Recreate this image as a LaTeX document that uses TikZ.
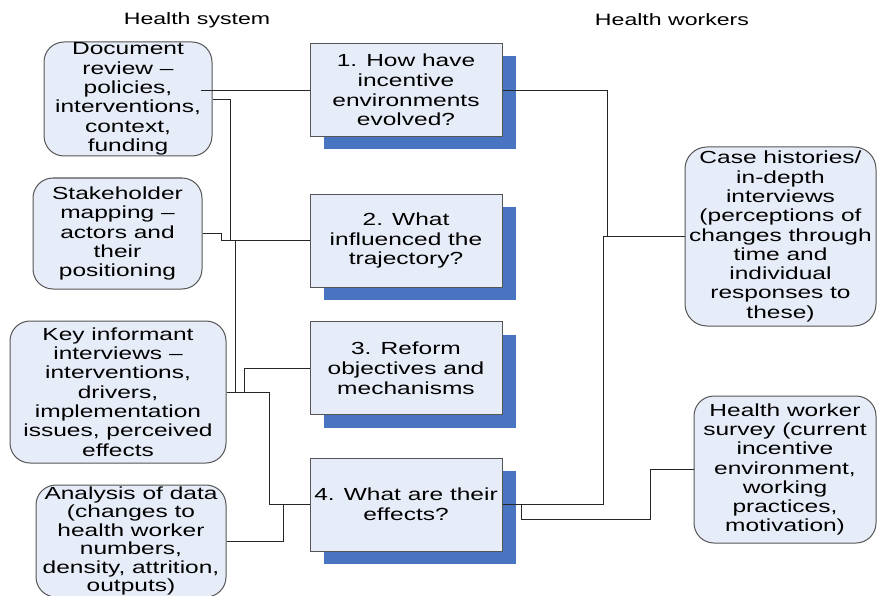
\documentclass[tikz,border=0pt]{standalone}
\usepackage{fontspec}
\setmainfont{Liberation Sans}[FakeStretch=1.4]
\usetikzlibrary{shadows}

\definecolor{boxfill}{HTML}{E7EDF8}
\definecolor{boxline}{HTML}{555555}
\definecolor{qshade}{HTML}{4874C2}

\begin{document}
\begin{tikzpicture}[x=1pt, y=-1pt,
	source/.style={draw=boxline, line width=1pt, fill=boxfill, rounded corners=20pt,
		align=center, inner sep=0pt, font=\fontsize{17.5}{19.3}\selectfont},
	question/.style={draw=boxline, line width=1pt, fill=boxfill, align=center,
		minimum width=192pt, minimum height=93pt, inner sep=0pt,
		font=\fontsize{17.5}{19.8}\selectfont,
		drop shadow={shadow xshift=14pt, shadow yshift=-13pt, fill=qshade, opacity=1}},
	heading/.style={font=\fontsize{16.5}{19}\selectfont},
	link/.style={draw=black!85, line width=0.9pt}]
	\useasboundingbox (0,0) rectangle (877,596);

	\node[heading] (hsys) at (197, 20) {Health system};
	\node[heading] (hwork) at (672, 20) {Health workers};

	% research questions
	\node[question] (q1) at (406, 90) {1. How have\\incentive\\environments\\evolved?};
	\node[question] (q2) at (406, 240.5) {2. What\\influenced the\\trajectory?};
	\node[question] (q3) at (406, 368) {3. Reform\\objectives and\\mechanisms};
	\node[question] (q4) at (406, 504.5) {4. What are their\\effects?};

	% health system sources
	\node[source, minimum width=168pt, minimum height=114pt] (doc) at (128, 99)
		{Document\\review \textendash\\policies,\\interventions,\\context,\\funding};
	\node[source, minimum width=169pt, minimum height=111pt] (stake) at (117.5, 233.5)
		{Stakeholder\\mapping \textendash\\actors and\\their\\positioning};
	\node[source, minimum width=216pt, minimum height=142pt] (key) at (118, 392)
		{Key informant\\interviews \textendash\\interventions,\\drivers,\\implementation\\issues, perceived\\effects};
	\node[source, minimum width=190pt, minimum height=112pt,
		font=\fontsize{17.5}{18.4}\selectfont] (data) at (131, 541)
		{Analysis of data\\(changes to\\health worker\\numbers,\\density, attrition,\\outputs)};

	% health worker sources
	\node[source, rounded corners=22pt, minimum width=191pt, minimum height=179pt] (hist) at (780.5, 236.5)
		{Case histories/\\in-depth\\interviews\\(perceptions of\\changes through\\time and\\individual\\responses to\\these)};
	\node[source, minimum width=182pt, minimum height=147pt] (surv) at (785, 469.5)
		{Health worker\\survey (current\\incentive\\environment,\\working\\practices,\\motivation)};

	% left connectors
	\draw[link] ([xshift=-12pt]doc.east |- q1.west) -- (q1.west);
	\draw[link] (doc.east) -- ++(18,0) |- (q2.west);
	\draw[link] (stake.east) -- ++(19,0) |- (q2.west);
	\draw[link] (key.east) -- ++(9,0) |- (q2.west);
	\draw[link] (key.east) -- ++(18,0) |- (q3.west);
	\draw[link] (key.east) -- ++(43,0) |- (q4.west);
	\draw[link] (data.east) -- ++(57,0) |- (q4.west);

	% right connectors
	\draw[link] (q1.east) -- ++(105,0) |- (hist.west);
	\draw[link] (q4.east) -- ++(101,0) |- (hist.west);
	\draw[link] (q4.east) -- ++(19,0) -- ++(0,14.5) -| ([xshift=-43pt]surv.west) -- (surv.west);
\end{tikzpicture}
\end{document}
